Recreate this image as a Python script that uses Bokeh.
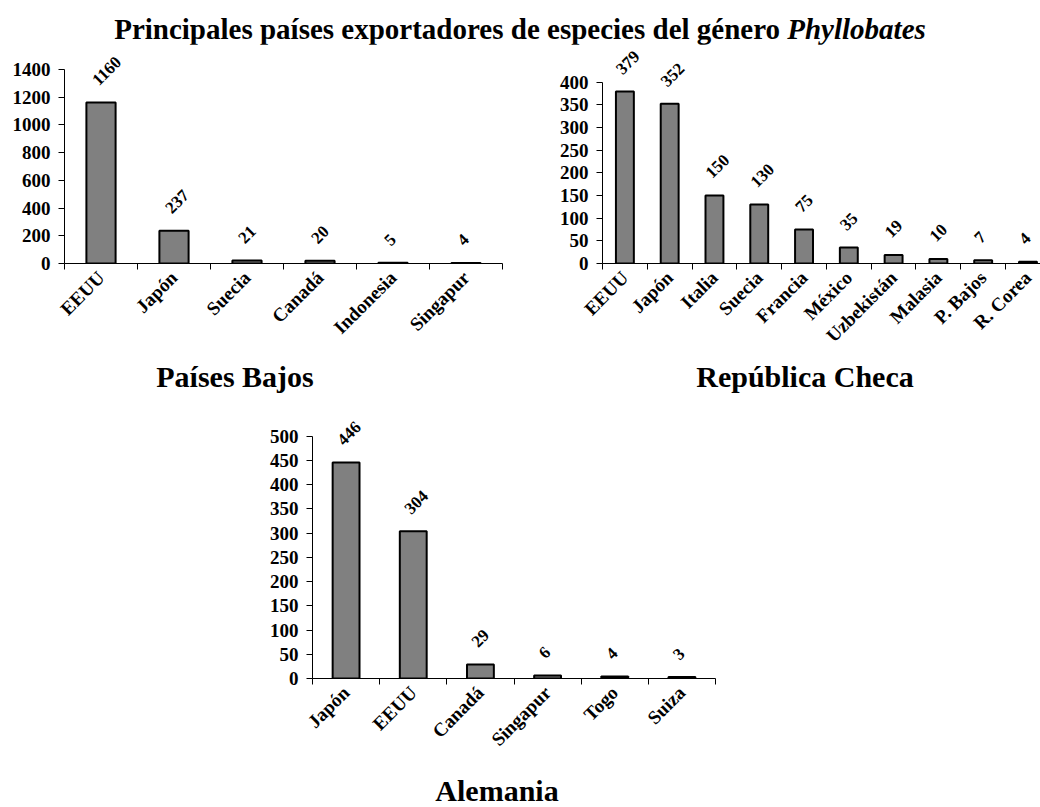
import math
from bokeh.plotting import figure
from bokeh.models import FixedTicker, Range1d, Div, Spacer, ColumnDataSource
from bokeh.layouts import column, row
from bokeh.core.properties import value
from bokeh.embed import file_html
from bokeh.resources import INLINE

# ---------------- data ----------------
title_main = "Principales países exportadores de especies del género"
title_genus = "Phyllobates"

nl_caption = "Países Bajos"
nl_countries = ["EEUU", "Japón", "Suecia", "Canadá", "Indonesia", "Singapur"]
nl_values = [1160, 237, 21, 20, 5, 4]
nl_yticks = [0, 200, 400, 600, 800, 1000, 1200, 1400]

cz_caption = "República Checa"
cz_countries = ["EEUU", "Japón", "Italia", "Suecia", "Francia", "México",
                "Uzbekistán", "Malasia", "P. Bajos", "R. Corea"]
cz_values = [379, 352, 150, 130, 75, 35, 19, 10, 7, 4]
cz_yticks = [0, 50, 100, 150, 200, 250, 300, 350, 400]

de_caption = "Alemania"
de_countries = ["Japón", "EEUU", "Canadá", "Singapur", "Togo", "Suiza"]
de_values = [446, 304, 29, 6, 4, 3]
de_yticks = [0, 50, 100, 150, 200, 250, 300, 350, 400, 450, 500]

FONT = "Liberation Serif"
BAR_FILL = "#808080"


def make_chart(countries, values, yticks, width, height,
               b_left, b_right, b_top, frame_h, y_end, x_end=None):
    n = len(countries)
    idx = list(range(n))
    if x_end is None:
        x_end = n - 0.5
    p = figure(width=width, height=height,
               x_range=Range1d(-0.5, x_end), y_range=Range1d(0, y_end),
               output_backend="svg", toolbar_location=None,
               min_border_left=b_left, min_border_right=b_right,
               min_border_top=b_top,
               min_border_bottom=height - b_top - frame_h)
    p.outline_line_color = None
    p.xgrid.visible = False
    p.ygrid.visible = False
    p.background_fill_color = "white"
    p.border_fill_color = "white"

    src = ColumnDataSource(dict(x=idx, top=values,
                                label=[str(v) for v in values]))
    p.vbar(x="x", top="top", width=0.4, source=src,
           fill_color=BAR_FILL, line_color="black", line_width=2)
    p.text(x="x", y="top", text="label", source=src,
           angle=math.pi / 4, text_align="left", text_baseline="middle",
           x_offset=-6, y_offset=-20,
           text_font=value(FONT), text_font_style="bold",
           text_font_size="17px", text_color="black")

    xa = p.xaxis[0]
    xa.ticker = FixedTicker(ticks=idx,
                            minor_ticks=[i - 0.5 for i in range(n + 1)])
    xa.major_label_overrides = {i: c for i, c in enumerate(countries)}
    xa.major_tick_line_color = None
    xa.major_tick_out = 6
    xa.major_tick_in = 0
    xa.minor_tick_line_color = "black"
    xa.minor_tick_out = 6
    xa.minor_tick_in = 0
    xa.axis_line_color = "black"
    xa.major_label_orientation = math.pi / 4
    xa.major_label_standoff = 5
    xa.major_label_text_font = FONT
    xa.major_label_text_font_style = "bold"
    xa.major_label_text_font_size = "19px"
    xa.major_label_text_color = "black"

    ya = p.yaxis[0]
    ya.ticker = FixedTicker(ticks=yticks, minor_ticks=[])
    ya.bounds = (yticks[0], yticks[-1])
    ya.major_tick_in = 0
    ya.major_tick_out = 6
    ya.minor_tick_line_color = None
    ya.axis_line_color = "black"
    ya.major_tick_line_color = "black"
    ya.major_label_standoff = 8
    ya.major_label_text_font = FONT
    ya.major_label_text_font_style = "bold"
    ya.major_label_text_font_size = "19px"
    ya.major_label_text_color = "black"
    return p


def caption_div(text, width, height, pad_left, inner_width, pad_top):
    return Div(
        text=(f'<div style="margin-left:{pad_left}px;width:{inner_width}px;'
              f'padding-top:{pad_top}px;text-align:center;'
              f'font-family:\'{FONT}\';font-weight:bold;font-size:30px;'
              f'line-height:30px;color:black;white-space:nowrap;">{text}</div>'),
        width=width, height=height, margin=0)


p1 = make_chart(nl_countries, nl_values, nl_yticks,
                width=540, height=314, b_left=64, b_right=38, b_top=4,
                frame_h=217, y_end=1550)
p2 = make_chart(cz_countries, cz_values, cz_yticks,
                width=500, height=314, b_left=62, b_right=0, b_top=2,
                frame_h=217, y_end=474, x_end=9.28)
p3 = make_chart(de_countries, de_values, de_yticks,
                width=527, height=358, b_left=64, b_right=60, b_top=13,
                frame_h=263, y_end=543)

title = Div(
    text=(f'<div style="width:1040px;text-align:center;padding-top:13px;'
          f'font-family:\'{FONT}\';font-weight:bold;font-size:29px;'
          f'line-height:33px;color:black;">'
          f'{title_main} <i>{title_genus}</i></div>'),
    width=1040, height=44, margin=0)

cap1 = caption_div(nl_caption, 470, 44, 0, 470, 4)
cap2 = caption_div(cz_caption, 570, 44, 100, 470, 4)
cap3 = caption_div(de_caption, 1040, 47, 0, 994, 16)

layout = column(title,
                row(p1, p2, spacing=0),
                row(cap1, cap2, spacing=0),
                row(Spacer(width=248, height=358), p3, spacing=0),
                cap3,
                spacing=0)

open("out.html", "w").write(file_html(layout, INLINE, title="Phyllobates"))
